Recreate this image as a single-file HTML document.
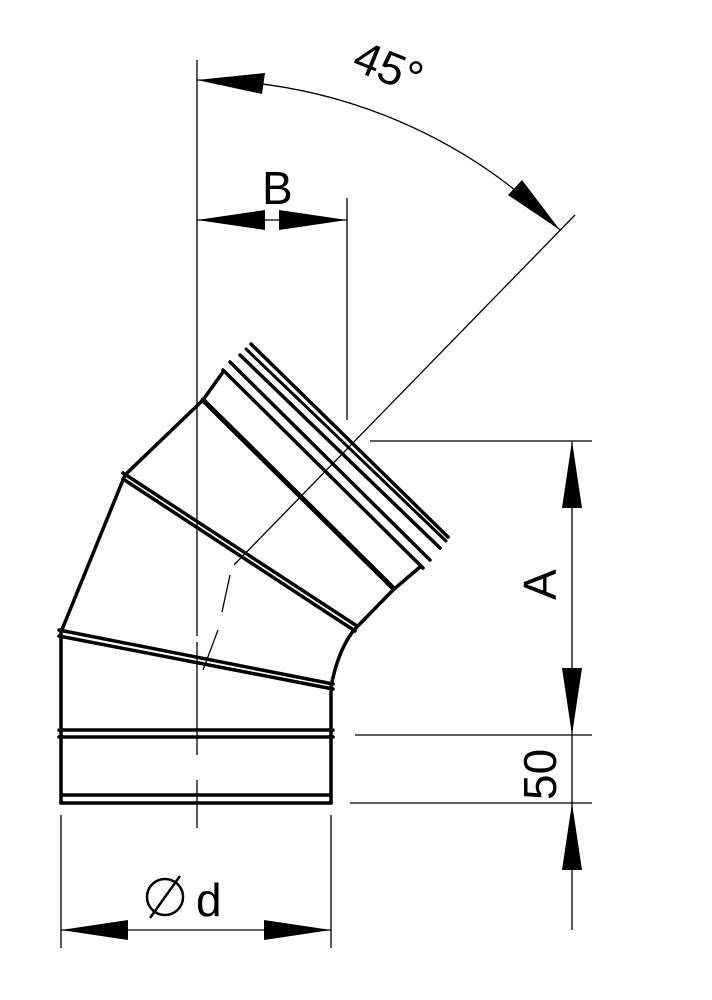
<!DOCTYPE html>
<html><head><style>body{margin:0;background:#fff}svg{display:block}</style></head><body>
<svg width="712" height="1000" viewBox="0 0 712 1000" xmlns="http://www.w3.org/2000/svg" font-family="Liberation Sans, sans-serif">
<g stroke="#000" fill="none" stroke-width="1.3">
<line x1="197" y1="60" x2="197" y2="636"/>
<line x1="197" y1="642" x2="197" y2="755"/>
<line x1="197" y1="780" x2="197" y2="828"/>
<line x1="575" y1="215" x2="234" y2="565"/>
<line x1="230" y1="575" x2="222" y2="612"/>
<line x1="218" y1="630" x2="203" y2="670"/>
<line x1="347" y1="198" x2="347" y2="420"/>
<line x1="197" y1="220" x2="347" y2="220"/>
<path d="M197,80 A513,513 0 0 1 560,230"/>
<line x1="370" y1="441" x2="592" y2="441"/>
<line x1="355" y1="735" x2="592" y2="735"/>
<line x1="350" y1="803" x2="592" y2="803"/>
<line x1="572" y1="441" x2="572" y2="930"/>
<line x1="61" y1="815" x2="61" y2="948"/>
<line x1="331" y1="815" x2="331" y2="948"/>
<line x1="61" y1="930" x2="331" y2="930"/>
<circle cx="165" cy="897" r="18" stroke-width="2.5"/>
<line x1="150" y1="918" x2="180" y2="876" stroke-width="2.5"/>
</g>
<g fill="#000">
<polygon points="197,220 265,210 265,230"/>
<polygon points="347,220 279,210 279,230"/>
<polygon points="197,80 265,73 262,94"/>
<polygon points="560,230 508,195 522,180"/>
<polygon points="572,441 562,508 582,508"/>
<polygon points="572,735 562,668 582,668"/>
<polygon points="572,803 562,870 582,870"/>
<polygon points="61,930 128,920 128,940"/>
<polygon points="331,930 264,920 264,940"/>
</g>
<g stroke="#000" fill="none" stroke-width="3.5" stroke-linecap="round" stroke-linejoin="round">
<path d="M61,803 L61,632 L125,475 L203,400 L223,372"/>
<path d="M331,803 L331,687 Q338,650 354,630 L393,590 L420,567"/>
<line x1="61" y1="803" x2="331" y2="803"/>
<line x1="61" y1="795" x2="331" y2="795"/>
<line x1="59" y1="730" x2="333" y2="730"/>
<line x1="59" y1="737" x2="333" y2="737"/>
<line x1="59" y1="630" x2="333" y2="684"/>
<line x1="59" y1="636" x2="333" y2="689"/>
<line x1="123" y1="473" x2="357" y2="626"/>
<line x1="123" y1="479" x2="355" y2="631"/>
<line x1="203" y1="400" x2="393" y2="588" stroke-width="5"/>
<line x1="223" y1="370" x2="423" y2="568"/>
<line x1="230" y1="362" x2="430" y2="560"/>
<line x1="240" y1="355" x2="440" y2="548"/>
<line x1="246" y1="349" x2="446" y2="541" stroke-width="3"/>
<line x1="251" y1="344" x2="448" y2="537"/>
</g>
<g font-size="46" fill="#000">
<text x="262" y="204">B</text>
<text x="352" y="84" transform="rotate(22 390 72)">45°</text>
<text x="0" y="0" transform="translate(556,600) rotate(-90)">A</text>
<text x="0" y="0" transform="translate(556,800) rotate(-90)">50</text>
<text x="196" y="916">d</text>
</g>
</svg>
</body></html>
